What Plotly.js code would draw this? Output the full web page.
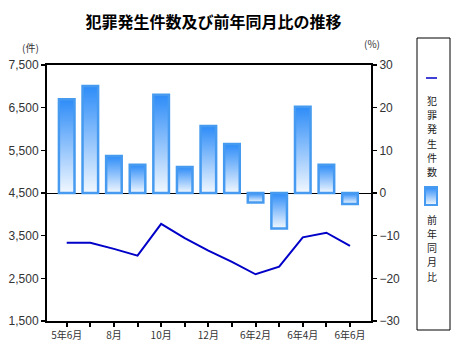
<!DOCTYPE html>
<html>
<head>
<meta charset="utf-8">
<script src="https://cdn.plot.ly/plotly-3.0.1.min.js"></script>
<style>html,body{margin:0;padding:0;background:#fff;}#chart{width:469px;height:362px;}</style>
</head>
<body>
<div id="chart"></div>
<script>
var categories = ["5年6月","5年7月","5年8月","5年9月","5年10月","5年11月","5年12月","6年1月","6年2月","6年3月","6年4月","6年5月","6年6月"];
var tickLabels = ["5年6月","","8月","","10月","","12月","","6年2月","","6年4月","","6年6月"];
var crimeCounts = [3335, 3335, 3190, 3030, 3775, 3445, 3150, 2885, 2595, 2775, 3460, 3570, 3260];
var yoyChange = [22.0, 25.1, 8.7, 6.6, 23.0, 6.1, 15.7, 11.5, -2.2, -8.3, 20.2, 6.6, -2.6];
var lineName = "犯罪発生件数";
var barName = "前年同月比";

var jpFont = '"Noto Sans CJK JP", sans-serif';
var numFont = '"Liberation Sans", Arial, sans-serif';

var W = 469, H = 362, ML = 47, MR = 98, MT = 65, MB = 41;
var PW = W - ML - MR, PH = H - MT - MB;
function px2x(px) { return (px - ML) / PW; }
function px2y(py) { return (H - MB - py) / PH; }

var traces = [
  {type: 'bar', x: categories, y: yoyChange, yaxis: 'y', name: barName, width: 0.66,
   marker: {color: 'rgb(120,180,250)', line: {color: 'rgb(70,155,240)', width: 2.5}}, hoverinfo: 'none'},
  {type: 'scatter', mode: 'lines', x: categories, y: crimeCounts, yaxis: 'y2', name: lineName,
   line: {color: 'rgb(0,0,200)', width: 2}, hoverinfo: 'none'}
];

var annotations = [
  {text: '(件)', xref: 'paper', yref: 'paper', x: px2x(30), y: px2y(47), xanchor: 'center', yanchor: 'middle', showarrow: false,
   font: {family: jpFont, size: 10, color: '#333'}},
  {text: '(%)', xref: 'paper', yref: 'paper', x: px2x(372), y: px2y(43), xanchor: 'center', yanchor: 'middle', showarrow: false,
   font: {family: jpFont, size: 10, color: '#333'}}
];
function vertText(str, startY, step) {
  Array.from(str).forEach(function(ch, i) {
    annotations.push({text: ch, xref: 'paper', yref: 'paper', x: px2x(432), y: px2y(startY + i * step),
      xanchor: 'center', yanchor: 'middle', showarrow: false, height: 13,
      font: {family: jpFont, size: 10, color: '#222'}});
  });
}
vertText(lineName, 100.5, 14.2);
vertText(barName, 219, 14.25);

var layout = {
  width: W, height: H,
  margin: {l: ML, r: MR, t: MT, b: MB},
  paper_bgcolor: '#fff', plot_bgcolor: '#fff',
  showlegend: false,
  title: {text: '犯罪発生件数及び前年同月比の推移', font: {family: jpFont, size: 16, color: '#000', weight: 'bold'},
          xref: 'container', x: 0.455, xanchor: 'center', yref: 'container', y: 0.939, yanchor: 'middle'},
  xaxis: {type: 'category', categoryorder: 'array', categoryarray: categories, range: [-0.835, 12.89],
    tickmode: 'array', tickvals: categories, ticktext: tickLabels,
    ticks: 'outside', ticklen: 4, tickwidth: 2, tickcolor: '#000',
    showline: true, linecolor: '#000', linewidth: 2, mirror: true, showgrid: false, zeroline: false,
    tickfont: {family: jpFont, size: 10, color: '#333'}, tickangle: 0},
  yaxis: {side: 'right', range: [-30, 30], dtick: 10, tick0: 0,
    ticks: 'outside', ticklen: 4, tickwidth: 1.5, tickcolor: '#000',
    showline: true, linecolor: '#000', linewidth: 2,
    showgrid: false, zeroline: true, zerolinecolor: '#000', zerolinewidth: 1,
    tickfont: {family: numFont, size: 12, color: '#333'}},
  yaxis2: {side: 'left', overlaying: 'y', range: [1500, 7500], dtick: 1000, tick0: 1500, tickformat: ',d',
    ticks: 'outside', ticklen: 4, tickwidth: 1.5, tickcolor: '#000',
    showline: true, linecolor: '#000', linewidth: 2, showgrid: false, zeroline: false,
    tickfont: {family: numFont, size: 12, color: '#333'}},
  shapes: [
    {type: 'rect', xref: 'paper', yref: 'paper', x0: px2x(417), x1: px2x(450), y0: px2y(330), y1: px2y(38),
     line: {color: '#000', width: 1}, fillcolor: 'rgba(0,0,0,0)', layer: 'above'},
    {type: 'line', xref: 'paper', yref: 'paper', x0: px2x(426), x1: px2x(437), y0: px2y(78), y1: px2y(78),
     line: {color: 'rgb(0,0,200)', width: 1.5}},
    {type: 'rect', xref: 'paper', yref: 'paper', x0: px2x(425), x1: px2x(437), y0: px2y(205), y1: px2y(187),
     line: {color: 'rgb(70,155,240)', width: 2}, fillcolor: 'rgb(121,181,251)'}
  ],
  annotations: annotations
};

Plotly.newPlot('chart', traces, layout, {displayModeBar: false, staticPlot: true}).then(function(gd) {
  var svg = gd.querySelector('.main-svg');
  var defs = svg.querySelector('defs');
  var ns = 'http://www.w3.org/2000/svg';
  var grad = document.createElementNS(ns, 'linearGradient');
  grad.setAttribute('id', 'barGrad');
  grad.setAttribute('x1', '0'); grad.setAttribute('y1', '0');
  grad.setAttribute('x2', '0'); grad.setAttribute('y2', '1');
  [['0', 'rgb(45,140,248)'], ['1', 'rgb(242,248,255)']].forEach(function(s) {
    var st = document.createElementNS(ns, 'stop');
    st.setAttribute('offset', s[0]); st.setAttribute('stop-color', s[1]);
    grad.appendChild(st);
  });
  defs.appendChild(grad);
  gd.querySelectorAll('.barlayer .point path').forEach(function(p) { p.style.fill = 'url(#barGrad)'; });
  gd.querySelectorAll('.shapelayer path').forEach(function(p) {
    if ((p.style.fill || '').replace(/\s/g, '') === 'rgb(121,181,251)') p.style.fill = 'url(#barGrad)';
  });
});
</script>
</body>
</html>
